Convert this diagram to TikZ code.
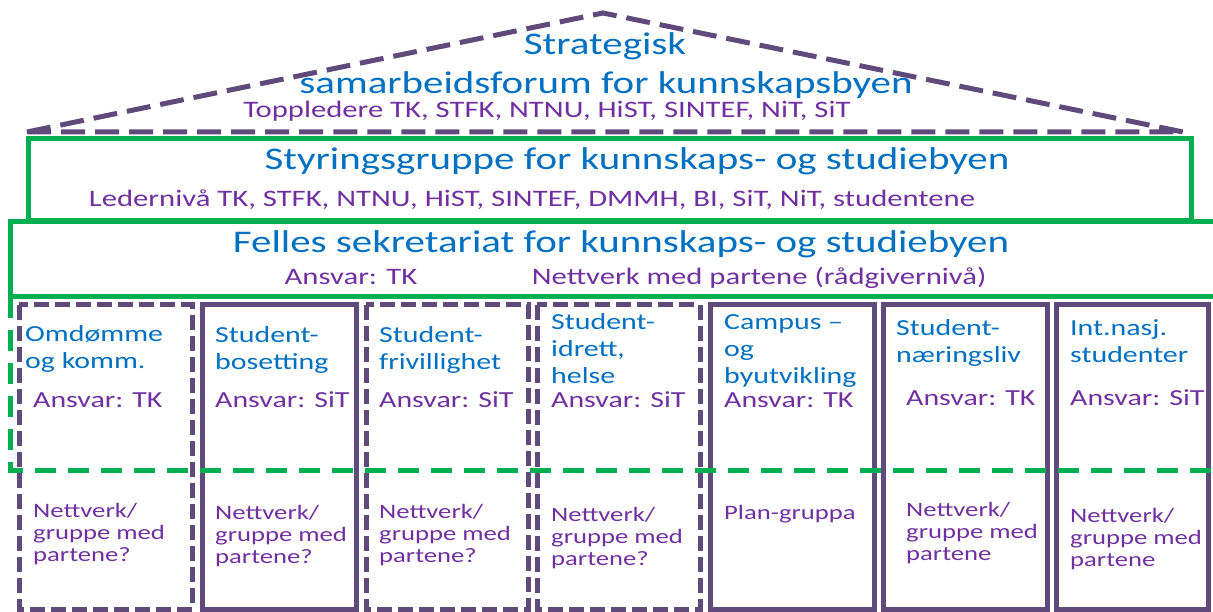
\documentclass[tikz,border=0pt]{standalone}
\usepackage{fontspec}
\setmainfont[FakeStretch=1.3]{Carlito}
\definecolor{titleblue}{HTML}{0070C0}
\definecolor{textpurple}{HTML}{7030A0}
\definecolor{linepurple}{HTML}{604A7B}
\definecolor{framegreen}{HTML}{00B050}
\newcommand{\headsize}{\fontsize{31.5}{38}\selectfont}
\newcommand{\subsize}{\fontsize{23.6}{28}\selectfont}
\newcommand{\boxsize}{\fontsize{23}{27}\selectfont}
\newcommand{\netsize}{\fontsize{20.5}{22}\selectfont}

\begin{document}
\begin{tikzpicture}[x=1pt,y=-1pt,
  roofline/.style={draw=linepurple,line width=5pt,dash pattern=on 24pt off 10pt},
  colsolid/.style={draw=linepurple,line width=5pt},
  coldash/.style={draw=linepurple,line width=5pt,dash pattern=on 15pt off 6pt},
  greensolid/.style={draw=framegreen,line width=5pt},
  greendash/.style={draw=framegreen,line width=5pt,dash pattern=on 21pt off 12pt},
  head/.style={text=titleblue,font=\headsize,inner sep=0pt,anchor=base},
  sub/.style={text=textpurple,font=\subsize,inner sep=0pt,anchor=base},
  coltitle/.style={text=titleblue,font=\boxsize,inner sep=0pt,anchor=north west,align=left},
  ansvar/.style={text=textpurple,font=\boxsize,inner sep=0pt,anchor=west},
  nett/.style={text=textpurple,font=\netsize,inner sep=0pt,anchor=north west,align=left}]
\useasboundingbox (0,0) rectangle (1213,612);

% roof
\draw[roofline] (27,132) -- (603,13) -- (1183,132) -- cycle;
\node[head] (strat) at (605,55) {Strategisk};
\node[head] (forum) at (606,94) {samarbeidsforum for kunnskapsbyen};
\node[sub] (topp) at (547,118) {Toppledere TK, STFK, NTNU, HiST, SINTEF, NiT, SiT};

% styringsgruppe
\draw[greensolid] (28,139) rectangle (1191,221);
\node[head] (styr) at (637,170) {Styringsgruppe for kunnskaps- og studiebyen};
\node[sub] (leder) at (532,207) {Ledernivå TK, STFK, NTNU, HiST, SINTEF, DMMH, BI, SiT, NiT, studentene};

% sekretariat
\draw[greensolid] (1216,222) -- (10,222) -- (10,297) -- (1216,297);
\node[head] (felles) at (621,253) {Felles sekretariat for kunnskaps- og studiebyen};
\node[sub] (ansTK) at (351,285) {Ansvar: TK};
\node[sub] (partene) at (759,285) {Nettverk med partene (rådgivernivå)};

% columns
\draw[coldash] (19,305) rectangle (192,609);
\draw[colsolid] (202,305) rectangle (356,609);
\draw[coldash] (366,305) rectangle (528,609);
\draw[coldash] (537,305) rectangle (700,609);
\draw[colsolid] (710,305) rectangle (874,609);
\draw[colsolid] (883,305) rectangle (1047,609);
\draw[colsolid] (1056,305) rectangle (1208,609);

\node[coltitle] (t1) at (25,325) {Omdømme\\og komm.};
\node[coltitle] (t2) at (215,326) {Student-\\bosetting};
\node[coltitle] (t3) at (379,326) {Student-\\frivillighet};
\node[coltitle] (t4) at (551,313) {Student-\\idrett,\\helse};
\node[coltitle] (t5) at (724,314) {Campus –\\og\\byutvikling};
\node[coltitle] (t6) at (896,319) {Student-\\næringsliv};
\node[coltitle] (t7) at (1070,319) {Int.nasj.\\studenter};

\node[ansvar] (a1) at (33,400) {Ansvar: TK};
\node[ansvar] (a2) at (215,400) {Ansvar: SiT};
\node[ansvar] (a3) at (379,400) {Ansvar: SiT};
\node[ansvar] (a4) at (551,400) {Ansvar: SiT};
\node[ansvar] (a5) at (724,400) {Ansvar: TK};
\node[ansvar] (a6) at (906,398) {Ansvar: TK};
\node[ansvar] (a7) at (1070,398) {Ansvar: SiT};

\node[nett] (n1) at (33,503) {Nettverk/\\gruppe med\\partene?};
\node[nett] (n2) at (215,505) {Nettverk/\\gruppe med\\partene?};
\node[nett] (n3) at (379,504) {Nettverk/\\gruppe med\\partene?};
\node[nett] (n4) at (551,507) {Nettverk/\\gruppe med\\partene?};
\node[nett] (n5) at (724,505) {Plan-gruppa};
\node[nett] (n6) at (906,502) {Nettverk/\\gruppe med\\partene};
\node[nett] (n7) at (1070,508) {Nettverk/\\gruppe med\\partene};

% dashed lower edge of the sekretariat
\draw[greendash] (10,297) -- (10,470) -- (1216,470);
\end{tikzpicture}
\end{document}
